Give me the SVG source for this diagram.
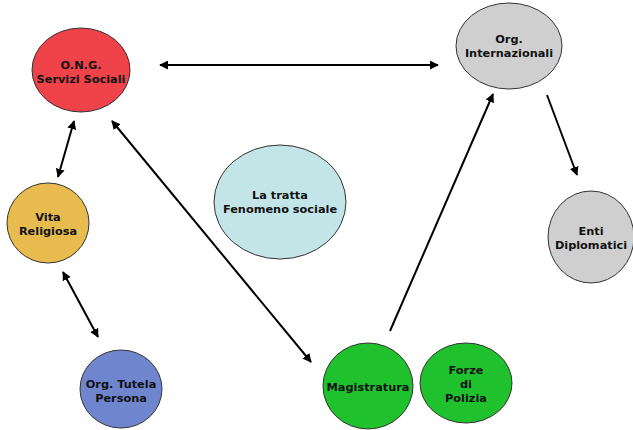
<svg xmlns="http://www.w3.org/2000/svg" width="633" height="430" viewBox="0 0 633 430">
<defs>
<marker id="ah" viewBox="0 0 10 10" refX="9" refY="5" markerWidth="9" markerHeight="9" markerUnits="userSpaceOnUse" orient="auto-start-reverse">
<path d="M0,0 L10,5 L0,10 z" fill="#000"/>
</marker>
<style>
.n{stroke:#333;stroke-width:1}
.t{font-family:"DejaVu Sans",sans-serif;font-weight:bold;font-size:11.3px;fill:#111;text-anchor:middle}
.c{stroke:#000;stroke-width:2;fill:none}
</style>
</defs>
<rect width="633" height="430" fill="#fff"/>
<g id="connectors">
<line class="c" x1="160" y1="65" x2="438" y2="65" marker-start="url(#ah)" marker-end="url(#ah)"/>
<line class="c" x1="74" y1="121" x2="58" y2="177" marker-start="url(#ah)" marker-end="url(#ah)"/>
<line class="c" x1="112" y1="121" x2="311" y2="362" marker-start="url(#ah)" marker-end="url(#ah)"/>
<line class="c" x1="63" y1="272" x2="98" y2="337" marker-start="url(#ah)" marker-end="url(#ah)"/>
<line class="c" x1="390" y1="331" x2="493" y2="94" marker-end="url(#ah)"/>
<line class="c" x1="547" y1="95" x2="577" y2="175" marker-end="url(#ah)"/>
</g>
<g id="ong">
<ellipse class="n" cx="81" cy="70" rx="49" ry="42" fill="#EF4249"/>
<text class="t" x="81" y="69">O.N.G.</text>
<text class="t" x="81" y="83">Servizi Sociali</text>
</g>
<g id="org-internazionali">
<ellipse class="n" cx="509" cy="46" rx="53" ry="43" fill="#CFCFCF"/>
<text class="t" x="509" y="43">Org.</text>
<text class="t" x="509" y="57">Internazionali</text>
</g>
<g id="enti-diplomatici">
<ellipse class="n" cx="591" cy="237" rx="43" ry="46" fill="#CFCFCF"/>
<text class="t" x="591" y="235">Enti</text>
<text class="t" x="591" y="249">Diplomatici</text>
</g>
<g id="vita-religiosa">
<ellipse class="n" cx="48" cy="223" rx="41" ry="40" fill="#E8BB4F"/>
<text class="t" x="48" y="221">Vita</text>
<text class="t" x="48" y="235">Religiosa</text>
</g>
<g id="org-tutela">
<ellipse class="n" cx="121" cy="389" rx="41" ry="39" fill="#6F86CF"/>
<text class="t" x="121" y="388">Org. Tutela</text>
<text class="t" x="121" y="402">Persona</text>
</g>
<g id="la-tratta">
<ellipse class="n" cx="280" cy="202" rx="66" ry="57" fill="#C4E5E8"/>
<text class="t" x="280" y="199">La tratta</text>
<text class="t" x="280" y="213">Fenomeno sociale</text>
</g>
<g id="magistratura">
<ellipse class="n" cx="368" cy="386" rx="45" ry="43" fill="#1FC22C"/>
<text class="t" x="368" y="391">Magistratura</text>
</g>
<g id="forze-polizia">
<ellipse class="n" cx="466" cy="383" rx="46" ry="40" fill="#1FC22C"/>
<text class="t" x="466" y="374">Forze</text>
<text class="t" x="466" y="388">di</text>
<text class="t" x="466" y="402">Polizia</text>
</g>
</svg>
